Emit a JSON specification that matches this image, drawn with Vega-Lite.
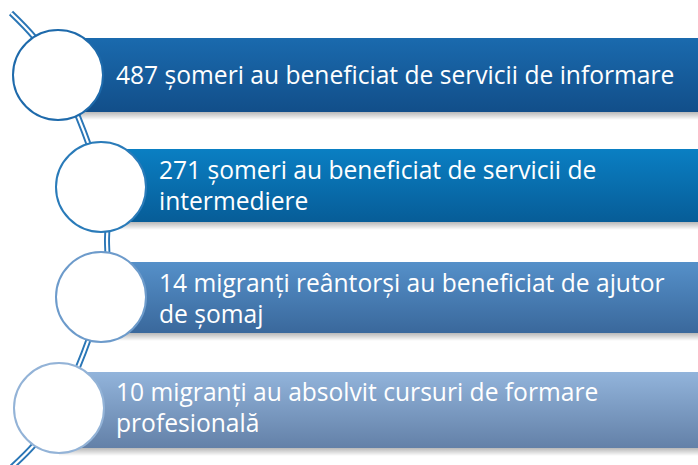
{
  "$schema": "https://vega.github.io/schema/vega-lite/v6.json",
  "width": 698,
  "height": 465,
  "autosize": {"type": "fit", "contains": "padding"},
  "padding": 0,
  "background": "white",
  "config": {"view": {"stroke": null}},
  "datasets": {
    "items": [
      {"id": "1", "cx": 58, "cy": 75, "top": 38, "bottom": 112, "shadow": 120, "right": 698},
      {"id": "2", "cx": 101, "cy": 187, "top": 149, "bottom": 222, "shadow": 230, "right": 698},
      {"id": "3", "cx": 101, "cy": 297, "top": 262, "bottom": 333, "shadow": 341, "right": 698},
      {"id": "4", "cx": 59, "cy": 408, "top": 372, "bottom": 448, "shadow": 456, "right": 698}
    ],
    "path": [
      {"o": 1, "x": 11, "y": 13},
      {"o": 2, "x": 59, "y": 75},
      {"o": 3, "x": 102, "y": 187},
      {"o": 4, "x": 107, "y": 241},
      {"o": 5, "x": 102, "y": 297},
      {"o": 6, "x": 59, "y": 408},
      {"o": 7, "x": 12, "y": 467}
    ],
    "labels": [
      {"t": "487 șomeri au beneficiat de servicii de informare", "x": 116, "y": 84},
      {"t": "271 șomeri au beneficiat de servicii de", "x": 159, "y": 179},
      {"t": "intermediere", "x": 159, "y": 210},
      {"t": "14 migranți reântorși au beneficiat de ajutor", "x": 159, "y": 292},
      {"t": "de șomaj", "x": 159, "y": 323},
      {"t": "10 migranți au absolvit cursuri de formare", "x": 116, "y": 401},
      {"t": "profesională", "x": 116, "y": 432}
    ]
  },
  "layer": [
    {
      "data": {"name": "items"},
      "mark": {"type": "rect", "fill": {"gradient": "linear", "x1": 0, "y1": 0, "x2": 0, "y2": 1, "stops": [{"offset": 0, "color": "rgba(0,0,0,0.28)"}, {"offset": 1, "color": "rgba(0,0,0,0)"}]}},
      "encoding": {
        "x": {"field": "cx", "type": "quantitative", "scale": {"domain": [0, 698], "nice": false, "zero": false}, "axis": null},
        "x2": {"field": "right"},
        "y": {"field": "bottom", "type": "quantitative", "scale": {"domain": [0, 465], "reverse": true, "nice": false, "zero": false}, "axis": null},
        "y2": {"field": "shadow"}
      }
    },
    {
      "data": {"name": "items"},
      "mark": {"type": "rect"},
      "encoding": {
        "x": {"field": "cx", "type": "quantitative"},
        "x2": {"field": "right"},
        "y": {"field": "top", "type": "quantitative"},
        "y2": {"field": "bottom"},
        "fill": {"field": "id", "type": "nominal", "scale": {"domain": ["1", "2", "3", "4"], "range": ["#1a6aae", "#0a7fc3", "#5590c9", "#92b4db"]}, "legend": null}
      }
    },
    {
      "data": {"name": "items"},
      "mark": {"type": "rect", "fill": {"gradient": "linear", "x1": 0, "y1": 0, "x2": 0, "y2": 1, "stops": [{"offset": 0, "color": "rgba(0,20,60,0)"}, {"offset": 1, "color": "rgba(0,20,60,0.32)"}]}},
      "encoding": {
        "x": {"field": "cx", "type": "quantitative"},
        "x2": {"field": "right"},
        "y": {"field": "top", "type": "quantitative"},
        "y2": {"field": "bottom"}
      }
    },
    {
      "data": {"name": "path"},
      "mark": {"type": "line", "interpolate": "natural", "stroke": "#2a76b6", "strokeWidth": 6, "clip": true},
      "encoding": {
        "x": {"field": "x", "type": "quantitative"},
        "y": {"field": "y", "type": "quantitative"},
        "order": {"field": "o"}
      }
    },
    {
      "data": {"name": "path"},
      "mark": {"type": "line", "interpolate": "natural", "stroke": "white", "strokeWidth": 2.2, "clip": true},
      "encoding": {
        "x": {"field": "x", "type": "quantitative"},
        "y": {"field": "y", "type": "quantitative"},
        "order": {"field": "o"}
      }
    },
    {
      "data": {"name": "items"},
      "mark": {"type": "point", "shape": "circle", "filled": false, "fill": "white", "fillOpacity": 1, "strokeWidth": 2, "size": 8100, "opacity": 1},
      "encoding": {
        "x": {"field": "cx", "type": "quantitative"},
        "y": {"field": "cy", "type": "quantitative"},
        "stroke": {"field": "id", "type": "nominal", "scale": {"domain": ["1", "2", "3", "4"], "range": ["#1e6aab", "#2a7bb9", "#6d9bcb", "#93b3d7"]}, "legend": null}
      }
    },
    {
      "data": {"name": "labels"},
      "mark": {"type": "text", "font": "Open Sans", "fontSize": 24.6, "color": "white", "align": "left", "baseline": "alphabetic"},
      "encoding": {
        "x": {"field": "x", "type": "quantitative"},
        "y": {"field": "y", "type": "quantitative"},
        "text": {"field": "t"}
      }
    }
  ]
}
